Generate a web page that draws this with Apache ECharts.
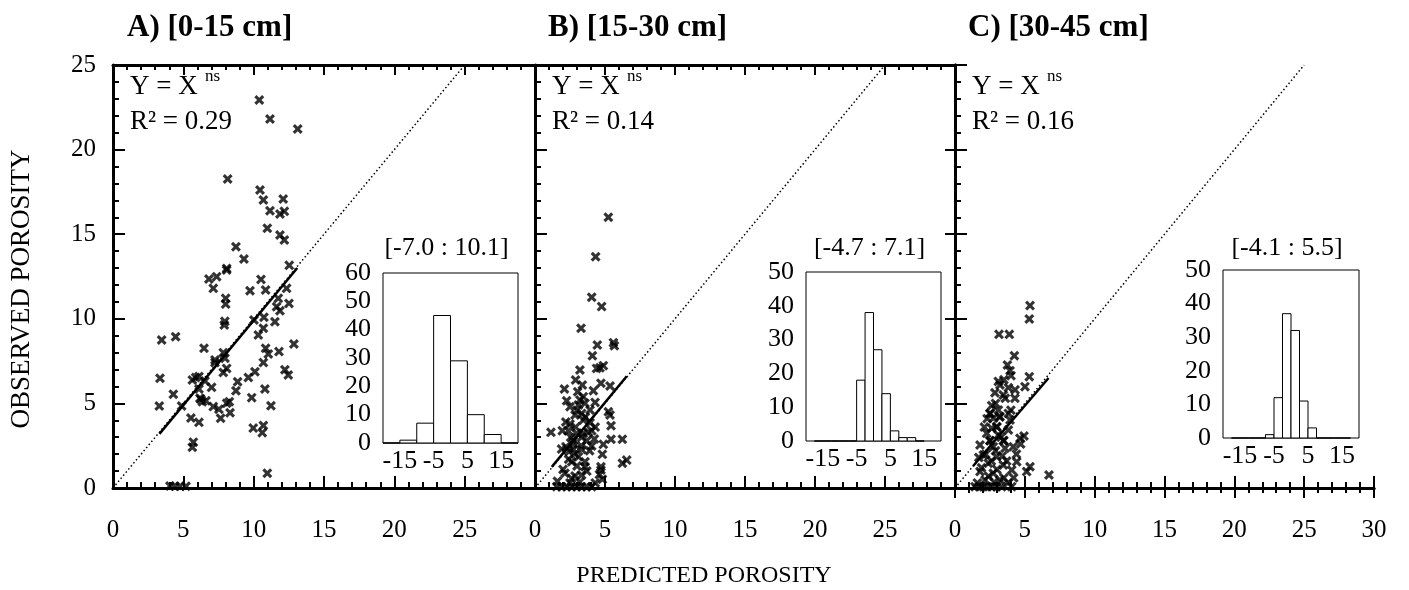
<!DOCTYPE html>
<html>
<head>
<meta charset="utf-8">
<script src="https://cdn.jsdelivr.net/npm/echarts@6/dist/echarts.min.js"></script>
<style>html,body{margin:0;padding:0;background:#fff}#c{width:1409px;height:590px}</style>
</head>
<body>
<div id="c"></div>
<script>
// ---------------- DATA ----------------
const panelTitles = ['A) [0-15 cm]', 'B) [15-30 cm]', 'C) [30-45 cm]'];
const r2Labels = ['R² = 0.29', 'R² = 0.14', 'R² = 0.16'];
const rangeLabels = ['[-7.0 : 10.1]', '[-4.7 : 7.1]', '[-4.1 : 5.5]'];
const xTickMax = 30, yTickMax = 25;
const histXTicks = [-15, -5, 5, 15];

const ptsA = [
 [10.40,22.93],[11.16,21.81],[13.13,21.22],[8.15,18.26],[10.45,17.61],[10.69,17.02],[12.10,17.08],
 [11.16,16.39],[11.87,16.19],[12.18,16.35],[10.97,15.35],[11.87,14.95],[12.18,14.66],[8.74,14.26],
 [9.31,13.53],[12.53,13.16],[8.08,12.98],[8.08,12.88],[6.82,12.35],[7.37,12.49],[7.13,11.80],
 [10.52,12.33],[9.74,11.66],[10.85,11.70],[12.34,11.80],[8.01,11.21],[8.01,10.87],[11.75,11.21],
 [12.51,10.91],[11.63,10.71],[11.87,10.48],[10.02,9.93],[10.73,10.09],[11.51,9.83],[7.91,9.63],
 [10.69,9.44],[10.33,9.04],[12.86,8.51],[3.46,8.75],[4.45,8.94],[6.47,8.26],[10.85,8.26],
 [11.80,8.06],[7.84,8.00],[11.04,7.92],[7.25,7.57],[7.96,7.67],[7.25,7.41],[8.08,7.07],
 [10.69,7.41],[12.22,6.99],[12.46,6.68],[10.09,6.87],[7.84,6.83],[3.34,6.49],[5.88,6.53],
 [6.11,6.59],[5.64,6.38],[6.54,6.32],[9.62,6.53],[8.86,6.28],[7.01,5.95],[4.29,5.54],
 [6.11,5.85],[8.74,5.75],[10.80,5.85],[9.86,5.34],[6.18,5.30],[4.88,4.85],[3.29,4.85],
 [6.35,5.10],[6.61,5.16],[7.13,4.81],[7.53,4.65],[8.08,5.01],[8.32,4.45],[7.65,4.12],
 [8.27,5.10],[11.23,4.86],[5.54,4.14],[6.11,3.88],[9.97,3.54],[10.69,3.69],[10.61,3.27],
 [5.71,2.71],[5.64,2.41],[10.97,0.87],[4.05,0.12],[4.41,0.10],[4.76,0.10],[5.19,0.10],
 [6.25,5.25],[7.95,9.85]
];
const ptsB = [
 [5.24,16.0],[4.33,13.67],[4.05,11.27],[4.76,10.72],[3.29,9.44],[4.45,8.45],[5.60,8.59],
 [5.67,8.41],[4.10,7.82],[4.40,7.07],[4.88,7.23],[3.21,6.97],[4.64,7.10],[2.90,6.38],
 [3.38,6.09],[4.71,6.19],[5.36,6.03],[2.10,5.85],[4.17,5.75],[3.05,5.69],[2.26,5.16],
 [3.21,5.20],[3.45,5.40],[3.57,5.01],[4.29,5.06],[3.10,4.91],[2.86,4.31],[3.33,4.41],
 [3.93,4.61],[5.24,4.51],[5.36,4.31],[3.45,4.02],[3.93,3.86],[5.43,3.68],[2.50,3.78],
 [1.14,3.29],[1.95,3.39],[2.38,3.39],[2.98,3.23],[3.33,3.00],[2.55,3.00],[4.24,2.90],
 [5.43,2.88],[6.24,2.88],[4.88,2.58],[4.05,2.48],[2.21,2.44],[2.74,2.30],[3.33,2.28],
 [2.43,2.15],[2.86,2.01],[4.81,1.99],[3.57,1.55],[2.62,1.55],[6.24,1.46],[6.55,1.65],
 [4.71,1.26],[4.71,1.06],[3.57,1.26],[2.14,0.87],[2.86,0.71],[3.33,0.77],[2.62,0.57],
 [4.81,0.51],[1.55,0.08],[1.90,0.08],[2.26,0.08],[2.62,0.08],[2.98,0.08],[3.33,0.08],
 [3.69,0.08],[4.05,0.08],[2.74,2.79],[3.45,3.23],[3.10,1.84],[3.69,2.79],[4.05,3.39],
 [2.50,4.80],[3.00,4.60],[3.60,4.20],[2.20,3.90],[2.90,3.60],[3.80,3.30],[4.30,3.60],
 [2.70,2.60],[3.30,2.50],[1.90,2.30],[3.90,2.20],[2.40,1.70],[3.00,1.30],[3.70,1.00],
 [2.00,1.10],[1.60,0.40],[2.50,0.30],[3.20,0.35],[4.30,0.30],[4.60,0.80]
];
const ptsC = [
 [5.37,10.78],[5.32,9.99],[3.15,9.08],[3.89,9.08],[4.25,7.82],[3.75,7.27],[3.94,6.93],
 [4.01,6.64],[5.32,6.58],[5.01,5.99],[3.22,6.09],[3.82,5.93],[2.86,5.63],[3.46,5.50],
 [4.29,5.30],[2.63,4.87],[3.10,4.61],[3.82,4.41],[2.74,4.12],[3.94,4.02],[2.63,3.53],
 [2.27,3.23],[3.10,3.13],[3.82,3.43],[4.94,3.07],[4.65,2.94],[1.79,2.54],[2.74,2.44],
 [3.58,2.35],[4.17,2.44],[2.03,1.95],[2.98,1.85],[4.42,1.55],[5.37,1.26],[2.39,1.46],
 [3.46,1.36],[4.06,1.06],[5.13,0.97],[6.73,0.77],[1.79,0.97],[2.74,0.87],[2.15,0.47],
 [3.22,0.47],[1.43,0.08],[1.74,0.08],[2.03,0.08],[2.31,0.08],[2.63,0.08],[2.98,0.08],
 [3.34,0.08],[4.06,0.08],[2.51,4.41],[3.22,4.22],[3.46,2.79],[2.51,2.79],[2.98,3.63],
 [2.50,4.40],[3.20,4.20],[3.00,3.60],[2.50,2.80],[3.50,2.80],[2.20,2.00],[2.60,1.60],
 [3.00,1.10],[3.70,1.60],[1.90,1.20],[2.40,0.70],[3.50,0.60],[1.60,0.30],[2.80,0.35],
 [3.80,0.30],[4.20,0.60],[2.90,5.00],[3.30,3.00],[4.40,2.00],[2.10,3.60],[3.60,5.30],
 [4.00,4.60],[2.30,4.10],[1.70,1.80],[4.70,2.60],[3.10,6.30],[3.50,6.40],[4.30,5.80],
 [2.90,2.20],[3.40,1.90]
];
// 1:1 reference line and fitted lines
const oneToOne = [[0, 0], [25, 25]];
const fitA = [[3.3, 3.2], [13.1, 13.0]];
const fitB = [[1.2, 1.25], [6.55, 6.6]];
const fitC = [[1.3, 1.3], [6.7, 6.5]];
// residual histograms: [bin low, bin high, count]
const histA = [[-20,-15,0],[-15,-10,1],[-10,-5,7],[-5,0,45],[0,5,29],[5,10,10],[10,15,3],[15,20,0]];
const histB = [[-17.5,-15,0],[-15,-12.5,0],[-12.5,-10,0],[-10,-7.5,0],[-7.5,-5,0],[-5,-2.5,18],[-2.5,0,38],
               [0,2.5,27],[2.5,5,14],[5,7.5,3],[7.5,10,1],[10,12.5,1],[12.5,15,0]];
const histC = [[-17.5,-15,0],[-15,-12.5,0],[-12.5,-10,0],[-10,-7.5,0],[-7.5,-5,1],[-5,-2.5,12],[-2.5,0,37],
               [0,2.5,32],[2.5,5,11],[5,7.5,3],[7.5,10,0],[10,12.5,0],[12.5,15,0],[15,17.5,0]];
const histYMax = [60, 50, 50];

// ---------------- LAYOUT ----------------
const FONT = '"Liberation Serif", "Times New Roman", serif';
const mainGrids = [
  {left: 113, top: 65, width: 422, height: 423},
  {left: 535, top: 65, width: 420, height: 423},
  {left: 955, top: 65, width: 419, height: 423}
];
const histGrids = [
  {left: 383, top: 273, width: 135, height: 170},
  {left: 806, top: 272, width: 135, height: 169},
  {left: 1223, top: 270, width: 136, height: 168}
];
const pts = [ptsA, ptsB, ptsC];
const fits = [fitA, fitB, fitC];
const hists = [histA, histB, histC];

const grid = [], xAxis = [], yAxis = [], series = [], graphic = [];
const axLine = w => ({show: true, lineStyle: {color: '#000', width: w}});
// ticks drawn towards the plot interior (negative length flips direction)
const tick = len => ({show: true, inside: false, length: -len, lineStyle: {color: '#000', width: 2}});
const minor = len => ({show: true, splitNumber: 5, length: -len, lineStyle: {color: '#000', width: 2}});

for (let i = 0; i < 3; i++) grid.push(Object.assign({containLabel: false}, mainGrids[i]));
for (let i = 0; i < 3; i++) {
  grid.push(Object.assign({containLabel: false, show: true, borderColor: '#000', borderWidth: 1, backgroundColor: '#fff'}, histGrids[i]));
}

for (let i = 0; i < 3; i++) {
  xAxis.push({
    gridIndex: i, type: 'value', min: 0, max: xTickMax, interval: 5, position: 'bottom',
    axisLine: axLine(3), axisTick: tick(12), minorTick: minor(6), splitLine: {show: false},
    axisLabel: {show: true, color: '#000', fontFamily: FONT, fontSize: 25, margin: 30, showMaxLabel: i === 2}
  });
  xAxis.push({
    gridIndex: i, type: 'value', min: 0, max: xTickMax, interval: 5, position: 'top',
    axisLine: axLine(3), axisTick: tick(10), minorTick: minor(5), splitLine: {show: false},
    axisLabel: {show: false}
  });
  yAxis.push({
    gridIndex: i, type: 'value', min: 0, max: yTickMax, interval: 5, position: 'left',
    axisLine: axLine(3), axisTick: tick(12), minorTick: minor(6), splitLine: {show: false},
    axisLabel: {show: i === 0, color: '#000', fontFamily: FONT, fontSize: 25, margin: 17}
  });
}
yAxis.push({
  gridIndex: 2, type: 'value', min: 0, max: yTickMax, interval: 5, position: 'right',
  axisLine: axLine(3), axisTick: tick(10), splitLine: {show: false}, axisLabel: {show: false}
});
const histXStart = xAxis.length, histYStart = yAxis.length;
for (let i = 0; i < 3; i++) {
  xAxis.push({
    gridIndex: 3 + i, type: 'value', min: -20, max: 20,
    axisLine: {show: false}, axisTick: {show: false}, splitLine: {show: false},
    axisLabel: {show: true, customValues: histXTicks, color: '#000', fontFamily: FONT, fontSize: 26, margin: 5}
  });
  yAxis.push({
    gridIndex: 3 + i, type: 'value', min: 0, max: histYMax[i], interval: 10,
    axisLine: {show: false}, axisTick: {show: false}, splitLine: {show: false},
    axisLabel: {show: true, color: '#000', fontFamily: FONT, fontSize: 26, margin: 12, lineHeight: 26}
  });
}

const crossPath = 'path://M0,2.2L2.2,0L5,2.8L7.8,0L10,2.2L7.2,5L10,7.8L7.8,10L5,7.2L2.2,10L0,7.8L2.8,5Z';

for (let i = 0; i < 3; i++) {
  series.push({
    type: 'line', xAxisIndex: 2 * i, yAxisIndex: i, data: oneToOne, symbol: 'none', silent: true,
    lineStyle: {color: '#000', width: 1.5, type: [1.5, 2.5]}, z: 1
  });
  series.push({
    type: 'line', xAxisIndex: 2 * i, yAxisIndex: i, data: fits[i], symbol: 'none', silent: true,
    lineStyle: {color: '#000', width: 2.5}, z: 2
  });
  series.push({
    type: 'scatter', xAxisIndex: 2 * i, yAxisIndex: i, data: pts[i], symbol: crossPath, symbolSize: 10,
    itemStyle: {color: '#000'}, z: 3
  });
  series.push({
    type: 'custom', xAxisIndex: histXStart + i, yAxisIndex: histYStart + i, data: hists[i], z: 5,
    renderItem: function (params, api) {
      const p0 = api.coord([api.value(0), api.value(2)]);
      const p1 = api.coord([api.value(1), 0]);
      return {type: 'rect', shape: {x: p0[0], y: p0[1], width: p1[0] - p0[0], height: p1[1] - p0[1]},
              style: {fill: '#fff', stroke: '#000', lineWidth: 1}};
    }
  });
}

const titleX = [127, 548, 968];
for (let i = 0; i < 3; i++) {
  const L = mainGrids[i].left;
  graphic.push({type: 'text', x: titleX[i], y: 28,
    style: {text: panelTitles[i], font: 'bold 31px ' + FONT, fill: '#000', verticalAlign: 'middle'}});
  graphic.push({type: 'text', x: L + 17, y: 87,
    style: {text: 'Y = X', font: '27px ' + FONT, fill: '#000', verticalAlign: 'middle'}});
  graphic.push({type: 'text', x: L + 92, y: 77,
    style: {text: 'ns', font: '17px ' + FONT, fill: '#000', verticalAlign: 'middle'}});
  graphic.push({type: 'text', x: L + 17, y: 122,
    style: {text: r2Labels[i], font: '27px ' + FONT, fill: '#000', verticalAlign: 'middle'}});
  const hg = histGrids[i];
  graphic.push({type: 'text', x: hg.left + hg.width / 2 - 4, y: 248,
    style: {text: rangeLabels[i], font: '26px ' + FONT, fill: '#000', align: 'center', verticalAlign: 'middle'}});
}
graphic.push({type: 'text', x: 22, y: 289, rotation: Math.PI / 2,
  style: {text: 'OBSERVED POROSITY', font: '27px ' + FONT, fill: '#000', align: 'center', verticalAlign: 'middle'}});
graphic.push({type: 'text', x: 704, y: 576,
  style: {text: 'PREDICTED POROSITY', font: '24px ' + FONT, fill: '#000', align: 'center', verticalAlign: 'middle'}});

const chart = echarts.init(document.getElementById('c'), null, {renderer: 'canvas'});
chart.setOption({
  animation: false,
  backgroundColor: '#fff',
  grid, xAxis, yAxis, series, graphic
});
</script>
</body>
</html>
